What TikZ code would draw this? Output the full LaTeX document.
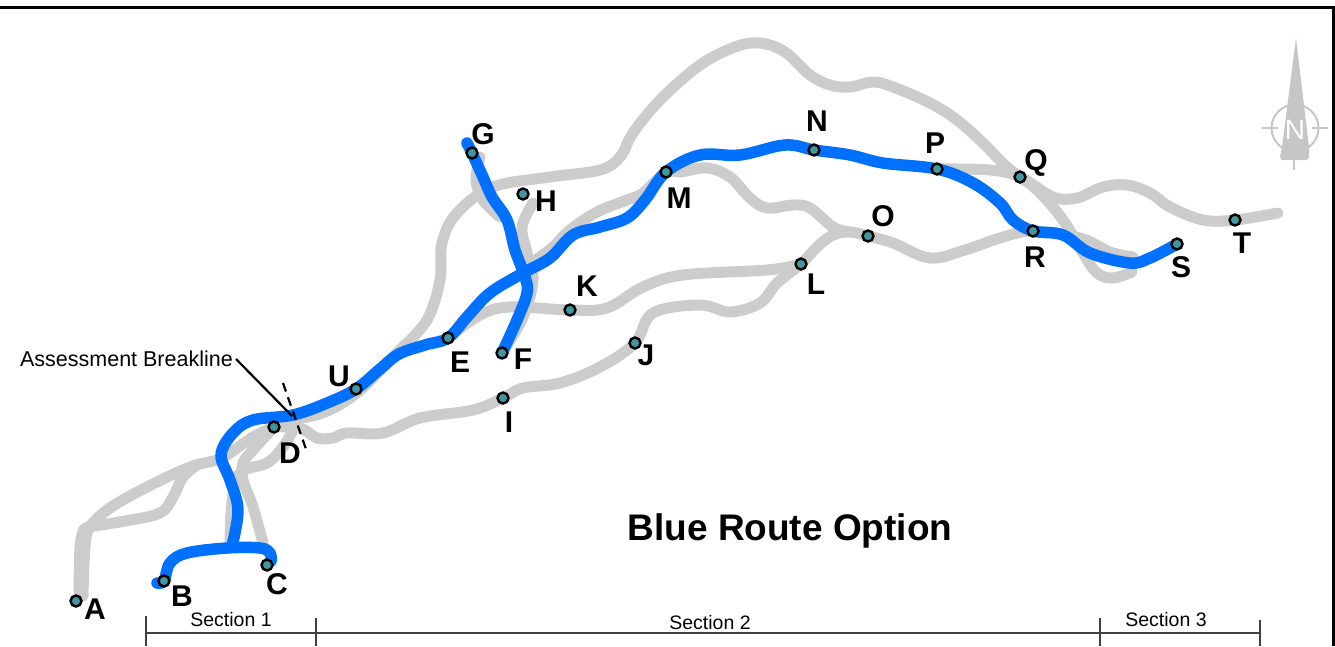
\documentclass[tikz,border=0pt]{standalone}
\usepackage{fontspec}
\setmainfont{Liberation Sans}
\usetikzlibrary{backgrounds}
\definecolor{roadgrey}{HTML}{CCCCCC}
\definecolor{routeblue}{HTML}{0070FF}
\definecolor{stationteal}{HTML}{3F98A0}
\definecolor{scalegrey}{HTML}{404040}
\definecolor{northgrey}{HTML}{C6C6C6}
\tikzset{
  x=1pt,y=-1pt,
  station/.style={circle,draw=black,fill=stationteal,line width=2.4pt,minimum size=11pt,inner sep=0pt},
  stationlabel/.style={inner sep=0pt,font=\fontsize{30}{32}\selectfont\bfseries},
  sectionlabel/.style={inner sep=0pt,font=\fontsize{19.5}{22}\selectfont},
  road/.style={draw=roadgrey,line width=11pt,line cap=round,line join=round},
  route/.style={draw=routeblue,line width=11.5pt,line cap=round,line join=round},
  scaleline/.style={draw=scalegrey,line width=1.2pt},
  northline/.style={draw=northgrey,line width=2pt}
}
\begin{document}
\begin{tikzpicture}
\path[use as bounding box] (0,0) rectangle (1335,646);
% frame
\draw[line width=3.2pt] (-2,7.3) -- (1333.5,7.3) -- (1333.5,646);
% stations
\node[station] (A) at (76,601) {};
\node[station] (B) at (164,581) {};
\node[station] (C) at (267,565) {};
\node[station] (D) at (274,427) {};
\node[station] (E) at (448,338) {};
\node[station] (F) at (502,353) {};
\node[station] (G) at (472,153) {};
\node[station] (H) at (523,194) {};
\node[station] (I) at (503,398) {};
\node[station] (J) at (635,343) {};
\node[station] (K) at (570,310) {};
\node[station] (L) at (801,264) {};
\node[station] (M) at (666,172) {};
\node[station] (N) at (814,150) {};
\node[station] (O) at (868,236) {};
\node[station] (P) at (937,169) {};
\node[station] (Q) at (1020,177) {};
\node[station] (R) at (1033,231) {};
\node[station] (S) at (1177,244) {};
\node[station] (T) at (1235,220) {};
\node[station] (U) at (356,389) {};
% station labels
\node[stationlabel] (lA) at (95,609) {A};
\node[stationlabel] (lB) at (182,596) {B};
\node[stationlabel] (lC) at (277,584) {C};
\node[stationlabel] (lD) at (290,453) {D};
\node[stationlabel] (lE) at (460,362) {E};
\node[stationlabel] (lF) at (523,359) {F};
\node[stationlabel] (lG) at (483,134) {G};
\node[stationlabel] (lH) at (546,201) {H};
\node[stationlabel] (lI) at (509,422) {I};
\node[stationlabel] (lJ) at (646,355) {J};
\node[stationlabel] (lK) at (587,286) {K};
\node[stationlabel] (lL) at (816,284) {L};
\node[stationlabel] (lM) at (679,198) {M};
\node[stationlabel] (lN) at (817,121) {N};
\node[stationlabel] (lO) at (883,216) {O};
\node[stationlabel] (lP) at (935,143) {P};
\node[stationlabel] (lQ) at (1036,163) {Q};
\node[stationlabel] (lR) at (1035,257) {R};
\node[stationlabel] (lS) at (1181,267) {S};
\node[stationlabel] (lT) at (1242,243) {T};
\node[stationlabel] (lU) at (339,376) {U};
\node[inner sep=0pt,font=\fontsize{37}{40}\selectfont\bfseries] (title) at (790,531) {Blue Route Option};
% breakline
\node[inner sep=0pt,font=\fontsize{21.5}{24}\selectfont,anchor=east] (brk) at (233,359) {Assessment Breakline};
\coordinate (brkend) at (292,416);
\coordinate (dash1) at (283,383);
\coordinate (dash2) at (307,452);
\draw[line width=2.2pt] (brk.east) ++(3,0) -- (brkend);
\draw[line width=2.2pt,dash pattern=on 9pt off 6pt] (dash1) -- (dash2);
% section scale
\coordinate (s0) at (146,633);
\coordinate (s3) at (1260,633);
\draw[scaleline] (s0) -- (s3);
\draw[scaleline] (146,616) -- (146,646);
\draw[scaleline] (316,618) -- (316,646);
\draw[scaleline] (1100,618) -- (1100,646);
\draw[scaleline] (1260,620) -- (1260,646);
\node[sectionlabel] (sec1) at (231,620) {Section 1};
\node[sectionlabel] (sec2) at (710,623) {Section 2};
\node[sectionlabel] (sec3) at (1166,620) {Section 3};
% north arrow
\fill[northgrey] (1296,38) -- (1309,147) -- (1309,157) -- (1307,160) -- (1282,160) -- (1280,157) -- (1282,147) -- cycle;
\draw[northline] (1295,128) circle (23.5);
\draw[northline] (1262,128) -- (1278,128);
\draw[northline] (1312,128) -- (1328,128);
\draw[northline] (1294,160) -- (1294,170);
\node[inner sep=0pt,text=white,font=\fontsize{28}{30}\selectfont] (north) at (1295,130) {N};
% roads and route
\begin{scope}[on background layer]
\draw[road] plot[smooth,tension=0.6] coordinates {(79,596) (80,547) (84,529)};
\draw[road] plot[smooth,tension=0.6] coordinates {(83,596) (85,547) (90,527) (110,508) (147,487) (190,467) (217,460) (230,453) (253,437) (D.center)};
\draw[road] plot[smooth,tension=0.6] coordinates {(87,527) (125,521) (160,513) (173,497) (183,477) (197,465)};
\draw[road] plot[smooth,tension=0.6] coordinates {(263,543) (253,507) (243,480) (243,463) (253,450) (D.center)};
\draw[road] plot[smooth,tension=0.6] coordinates {(230,543) (232,503) (240,473) (267,463) (283,447) (293,430)};
\draw[road] plot[smooth,tension=0.6] coordinates {(D.center) (300,428) (317,438) (333,438) (347,433) (383,433) (420,418) (473,410) (I.center) (523,388) (560,383) (600,367) (J.center) (653,313) (700,305) (730,312) (760,303) (777,283) (L.center) (817,247) (833,235) (850,232) (O.center) (893,243) (930,258) (965,250) (1000,238) (R.center) (1080,238) (1110,252) (1133,257)};
\draw[road] plot[smooth,tension=0.6] coordinates {(E.center) (480,315) (510,307) (K.center) (607,308) (643,287) (683,275) (767,270) (L.center)};
\draw[road] plot[smooth,tension=0.6] coordinates {(533,203) (522,227) (527,253) (533,280) (523,317) (F.center)};
\draw[road] plot[smooth,tension=0.6] coordinates {(480,157) (476,180) (483,200) (500,217)};
\draw[road] plot[smooth,tension=0.6] coordinates {(400,350) (427,320) (440,280) (442,243) (457,213) (493,187) (550,177) (600,170) (620,157) (633,133) (660,100) (700,65) (735,47) (760,43) (785,52) (810,75) (830,85) (850,87) (873,82) (893,87) (930,103) (957,120) (983,143) (1007,167) (1037,190) (1063,220) (1083,253) (1097,273) (1113,278) (1132,272)};
\draw[road] plot[smooth,tension=0.6] coordinates {(P.center) (990,170) (Q.center) (1053,197) (1077,198) (1103,187) (1127,185) (1150,193) (1170,207) (1203,220) (T.center) (1278,213)};
\draw[road] plot[smooth,tension=0.6] coordinates {(850,232) (833,227) (810,208) (793,205) (767,208) (750,198) (730,177) (707,168) (680,172) (M.center) (643,193) (627,200) (597,212) (570,230) (553,247) (533,262)};
\draw[road] plot[smooth,tension=0.6] coordinates {(290,420) (325,412) (358,392) (390,360) (407,343)};
\draw[route] plot[smooth,tension=0.6] coordinates {(157,583) (B.center) (170,563) (187,553) (227,548) (260,548) (270,553) (271,561)};
\draw[route] plot[smooth,tension=0.6] coordinates {(232,546) (238,510) (230,480) (221,455) (233,433) (253,420) (293,415) (327,403) (U.center) (380,369) (399,354) (425,345) (E.center) (467,317) (490,293) (523,273) (550,258) (573,235) (600,227) (627,218) (645,200) (M.center) (700,155) (740,155) (785,145) (N.center) (850,155) (883,163) (P.center) (973,183) (1000,203) (1013,220) (R.center) (1063,235) (1090,253) (1130,263) (1150,258) (S.center)};
\draw[route] plot[smooth,tension=0.6] coordinates {(467,143) (G.center) (483,177) (492,197) (507,220) (515,250) (525,277) (527,293) (517,320) (F.center)};
\end{scope}
\end{tikzpicture}
\end{document}
